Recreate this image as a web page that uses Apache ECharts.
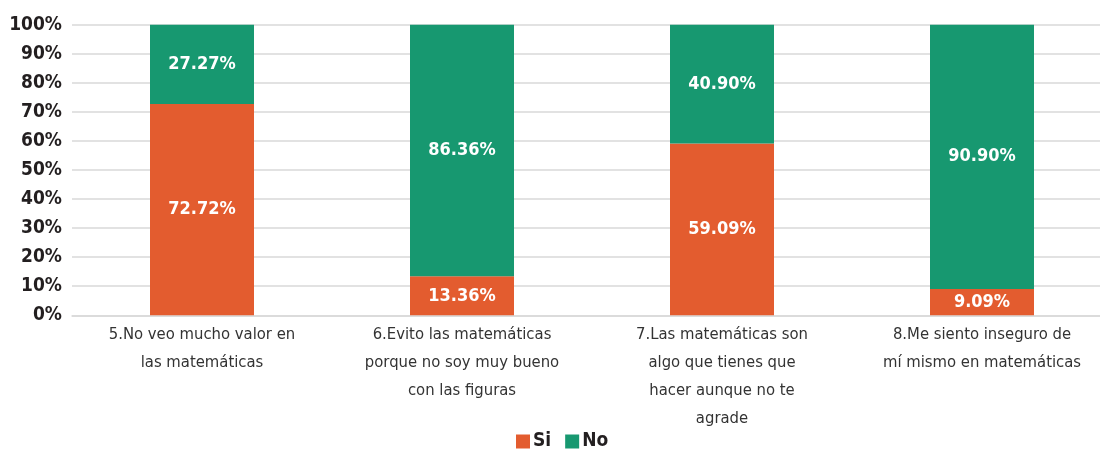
<!DOCTYPE html>
<html>
<head>
<meta charset="utf-8">
<script src="https://cdn.jsdelivr.net/npm/echarts@6/dist/echarts.min.js"></script>
<style>
html,body{margin:0;padding:0;background:#fff;}
#chart{width:1100px;height:452px;}
</style>
</head>
<body>
<div id="chart"></div>
<script>
const categories = [
  "5.No veo mucho valor en\nlas matemáticas",
  "6.Evito las matemáticas\nporque no soy muy bueno\ncon las figuras",
  "7.Las matemáticas son\nalgo que tienes que\nhacer aunque no te\nagrade",
  "8.Me siento inseguro de\nmí mismo en matemáticas"
];
const siValues = [72.72, 13.36, 59.09, 9.09];
const noValues = [27.27, 86.36, 40.90, 90.90];
const seriesNames = ["Si", "No"];

// 100% stacked: each column is scaled to its own total, labels keep the raw values
const totals = siValues.map((v, i) => v + noValues[i]);
const siShare = siValues.map((v, i) => v / totals[i] * 100);
const noShare = noValues.map((v, i) => v / totals[i] * 100);
const rawBySeries = [siValues, noValues];

const FONT = "'Liberation Sans Narrow', 'Arial Narrow', 'DejaVu Sans Condensed', sans-serif";
const chart = echarts.init(document.getElementById('chart'), null, {renderer: 'canvas'});

const labelOpt = {
  show: true,
  position: 'inside',
  color: '#ffffff',
  fontFamily: FONT,
  fontWeight: 'bold',
  fontSize: 18,
  formatter: p => rawBySeries[p.seriesIndex][p.dataIndex].toFixed(2) + '%'
};

chart.setOption({
  animation: false,
  backgroundColor: '#ffffff',
  textStyle: {fontFamily: FONT},
  grid: {left: 72, top: 24.7, width: 1040, height: 290.6, containLabel: false, outerBoundsMode: 'none'},
  legend: {
    data: seriesNames,
    left: 511,
    top: 427,
    itemWidth: 14,
    itemHeight: 14,
    itemGap: 14,
    icon: 'rect',
    textStyle: {fontFamily: FONT, fontWeight: 'bold', fontSize: 19, color: '#231f20', padding: [0,0,0,-2]}
  },
  xAxis: {
    type: 'category',
    data: categories,
    axisTick: {show: false},
    axisLine: {show: true, lineStyle: {color: '#d9d9d9', width: 1.5}},
    axisLabel: {
      interval: 0,
      fontFamily: FONT,
      fontSize: 16.5,
      color: '#333333',
      lineHeight: 28,
      margin: 5
    }
  },
  yAxis: {
    type: 'value',
    min: 0,
    max: 100,
    interval: 10,
    axisLine: {show: false},
    axisTick: {show: false},
    splitLine: {lineStyle: {color: '#d9d9d9', width: 1.5}},
    axisLabel: {
      formatter: '{value}%',
      fontFamily: FONT,
      fontWeight: 'bold',
      fontSize: 19,
      color: '#231f20',
      margin: 10
    }
  },
  series: [
    {
      name: seriesNames[0],
      type: 'bar',
      stack: 'total',
      data: siShare,
      barWidth: 104,
      itemStyle: {color: '#e35c2f'},
      label: labelOpt
    },
    {
      name: seriesNames[1],
      type: 'bar',
      stack: 'total',
      data: noShare,
      barWidth: 104,
      itemStyle: {color: '#179870'},
      label: labelOpt
    }
  ]
});
</script>
</body>
</html>
